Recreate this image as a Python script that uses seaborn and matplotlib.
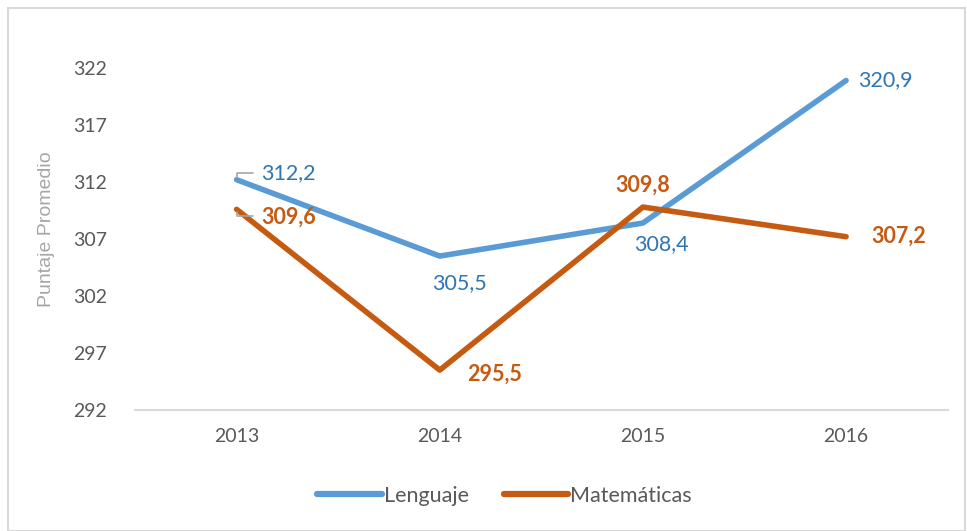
import matplotlib
matplotlib.use("Agg")
import matplotlib.pyplot as plt
from matplotlib.patches import Rectangle
import seaborn as sns
import pandas as pd

years = ["2013", "2014", "2015", "2016"]
lenguaje = [312.2, 305.5, 308.4, 320.9]
matematicas = [309.6, 295.5, 309.8, 307.2]
series_names = ["Lenguaje", "Matemáticas"]
y_ticks = [292, 297, 302, 307, 312, 317, 322]

line_colors = ["#5B9BD5", "#C55A11"]
label_colors = ["#2E75B6", "#C55A11"]

df = pd.DataFrame({
    "Año": years * 2,
    "pos": list(range(len(years))) * 2,
    "Puntaje": lenguaje + matematicas,
    "Serie": [series_names[0]] * len(years) + [series_names[1]] * len(years),
})

sns.set_theme(style="white")
plt.rcParams["font.family"] = ["Lato", "DejaVu Sans"]

fig = plt.figure(figsize=(9.67, 5.31), dpi=100)
ax = fig.add_axes([0.1396, 0.2279, 0.8404, 0.6441])

sns.lineplot(data=df, x="pos", y="Puntaje", hue="Serie", palette=line_colors,
             linewidth=4, ax=ax, solid_capstyle="round", legend=True)

ax.set_xlim(-0.5, 3.5)
ax.set_ylim(292, 322)
ax.set_xticks(range(len(years)))
ax.set_xticklabels(years)
ax.set_yticks(y_ticks)
ax.tick_params(axis="both", length=0, labelsize=14, colors="#595959")
ax.tick_params(axis="y", pad=20)
ax.tick_params(axis="x", pad=13)
ax.set_xlabel("")
ax.set_ylabel("Puntaje Promedio", fontsize=14, color="#A6A6A6",
              family=["Liberation Sans", "DejaVu Sans"])
ax.yaxis.set_label_coords(-0.098, 0.53)
for side in ["top", "right", "left"]:
    ax.spines[side].set_visible(False)
ax.spines["bottom"].set_color("#D9D9D9")
ax.spines["bottom"].set_linewidth(1.5)

def fmt(v):
    return f"{v:.1f}".replace(".", ",")

# data labels: (offset in points, ha, va)
len_offsets = [((18, 5), "left", "center"), ((14, -12), "center", "top"),
               ((-6, -8), "left", "top"), ((9, 0), "left", "center")]
mat_offsets = [((18, -6), "left", "center"), ((20, -3), "left", "center"),
               ((0, 8), "center", "bottom"), ((18, 0), "left", "center")]

for i, v in enumerate(lenguaje):
    (dx, dy), ha, va = len_offsets[i]
    ax.annotate(fmt(v), (i, v), xytext=(dx, dy), textcoords="offset points",
                ha=ha, va=va, fontsize=15.5, color=label_colors[0])
for i, v in enumerate(matematicas):
    (dx, dy), ha, va = mat_offsets[i]
    ax.annotate(fmt(v), (i, v), xytext=(dx, dy), textcoords="offset points",
                ha=ha, va=va, fontsize=15.5, color=label_colors[1], fontweight="bold")

# leader lines for the 2013 labels
for v, dy in [(lenguaje[0], 5), (matematicas[0], -5)]:
    ax.annotate("", (0, v), xytext=(12, dy), textcoords="offset points",
                arrowprops=dict(arrowstyle="-", color="#A6A6A6", lw=1.2,
                                connectionstyle="angle,angleA=0,angleB=90,rad=0",
                                shrinkA=0, shrinkB=2))

leg = ax.legend(loc="upper center", bbox_to_anchor=(0.455, -0.165), ncol=2,
                frameon=False, fontsize=15.5, handlelength=3.0, handletextpad=0.1,
                columnspacing=1.6)
for t in leg.get_texts():
    t.set_color("#595959")
for h in leg.get_lines():
    h.set_linewidth(4.5)
    h.set_solid_capstyle("round")

fig.patches.append(Rectangle((0.008, 0.0), 0.99, 0.985, transform=fig.transFigure,
                             fill=False, edgecolor="#D9D9D9", lw=1.5))

fig.savefig("out.png", dpi=100)
